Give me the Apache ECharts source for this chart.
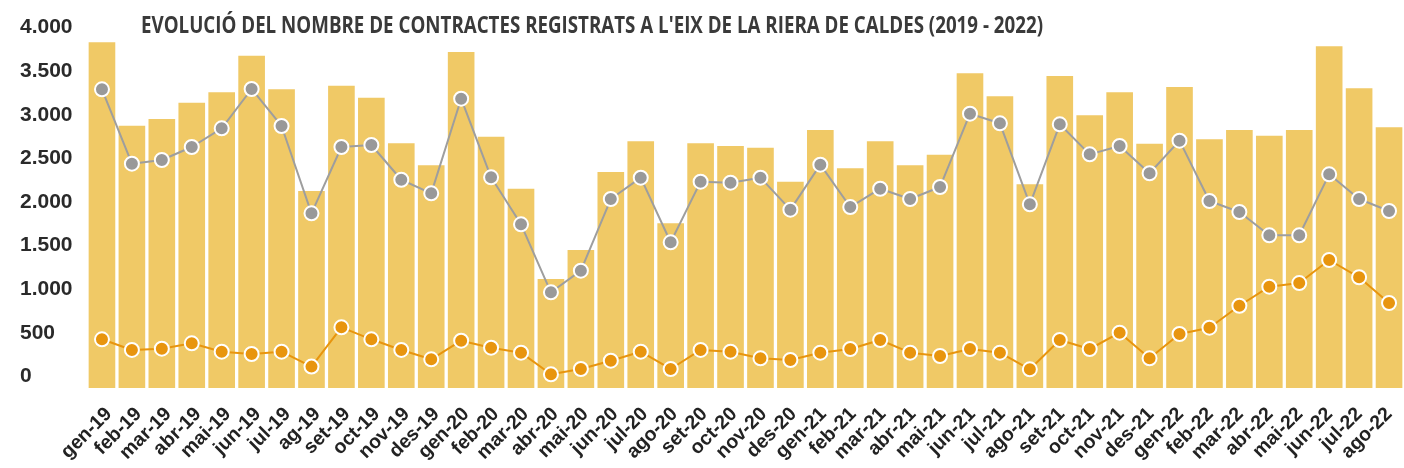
<!DOCTYPE html>
<html>
<head>
<meta charset="utf-8">
<script src="https://cdn.jsdelivr.net/npm/echarts@6/dist/echarts.min.js"></script>
<style>
html,body{margin:0;padding:0;background:#fff;}
#chart{width:1404px;height:468px;}
</style>
</head>
<body>
<div id="chart"></div>
<script>
var categories = ['gen-19','feb-19','mar-19','abr-19','mai-19','jun-19','jul-19','ag-19','set-19','oct-19','nov-19','des-19',
  'gen-20','feb-20','mar-20','abr-20','mai-20','jun-20','jul-20','ago-20','set-20','oct-20','nov-20','des-20',
  'gen-21','feb-21','mar-21','abr-21','mai-21','jun-21','jul-21','ago-21','set-21','oct-21','nov-21','des-21',
  'gen-22','feb-22','mar-22','abr-22','mai-22','jun-22','jul-22','ago-22'];
var totalValues = [3962,3006,3083,3270,3389,3809,3423,2258,3465,3327,2804,2552,
  3851,2880,2284,1249,1582,2476,2827,1887,2804,2774,2754,2365,
  2957,2518,2827,2552,2674,3607,3343,2335,3576,3125,3389,2800,
  3450,2850,2957,2892,2957,3916,3435,2988];
var grayValues = [3423,2571,2613,2762,2976,3427,3003,2002,2762,2785,2387,2231,
  3316,2415,1876,1097,1345,2166,2411,1670,2365,2353,2411,2044,
  2560,2074,2284,2166,2304,3144,3034,2105,3022,2678,2774,2461,
  2835,2143,2017,1750,1750,2449,2166,2029];
var orangeValues = [558,436,451,512,416,390,416,245,695,558,436,329,
  542,462,405,157,218,313,416,218,436,416,340,321,
  405,447,550,405,367,447,405,214,550,447,634,340,
  619,691,943,1161,1203,1467,1269,974];
var yTicks = [0,500,1000,1500,2000,2500,3000,3500,4000];
var titleText = "EVOLUCIÓ DEL NOMBRE DE CONTRACTES REGISTRATS A L'EIX DE LA RIERA DE CALDES (2019 - 2022)";

var titleFont = "'Open Sans', sans-serif";
var titleSize = 23;
var targetTitleWidth = 902;
var cv = document.createElement('canvas').getContext('2d');
cv.font = 'bold ' + titleSize + 'px ' + titleFont;
var titleScale = targetTitleWidth / cv.measureText(titleText).width;

var chart = echarts.init(document.getElementById('chart'));
function fmt(v){ return String(v).replace(/\B(?=(\d{3})+(?!\d))/g, '.'); }
var labelFont = "'Liberation Sans', Arial, sans-serif";
chart.setOption({
  animation: false,
  graphic: [{
    type: 'text', x: 141, y: 26, scaleX: titleScale, scaleY: 1,
    style: {text: titleText, fontFamily: titleFont, fontWeight: 'bold', fontSize: titleSize,
      fill: '#3a3a3a', align: 'left', verticalAlign: 'middle'}
  }],
  grid: [
    {left: 87, top: 39, width: 1321, height: 349, containLabel: false},
    {left: 94, top: 39, width: 1321, height: 349, containLabel: false}
  ],
  xAxis: [
    {type: 'category', data: categories, gridIndex: 0,
      axisLine: {show: false}, axisTick: {show: false}, axisLabel: {show: false}},
    {type: 'category', data: categories, gridIndex: 1,
      axisLine: {show: false}, axisTick: {show: false},
      axisLabel: {rotate: 45, interval: 0, margin: 23, color: '#222222',
        fontFamily: labelFont, fontWeight: 'bold', fontSize: 19.5}}
  ],
  yAxis: [
    {type: 'value', min: 0, max: 4000, interval: 500, gridIndex: 0,
      splitLine: {show: false}, axisLine: {show: false}, axisTick: {show: false},
      axisLabel: {
        align: 'left', margin: 67, verticalAlign: 'bottom', padding: [0,0,1,0],
        color: '#2a2a2a', fontFamily: labelFont, fontWeight: 'bold', fontSize: 21,
        formatter: function(v){ return fmt(v); }
      }},
    {type: 'value', min: 0, max: 4000, interval: 500, gridIndex: 1, show: false}
  ],
  series: [
    {type: 'bar', data: totalValues, barCategoryGap: '11%', itemStyle: {color: '#F0C966'}, z: 1},
    {type: 'line', data: grayValues, symbol: 'circle', symbolSize: 14,
      lineStyle: {color: '#9E9E9E', width: 2},
      itemStyle: {color: '#999999', borderColor: '#ffffff', borderWidth: 2}, z: 3},
    {type: 'line', data: orangeValues, symbol: 'circle', symbolSize: 14,
      lineStyle: {color: '#E8950E', width: 2},
      itemStyle: {color: '#E8950E', borderColor: '#ffffff', borderWidth: 2}, z: 3}
  ]
});
</script>
</body>
</html>
